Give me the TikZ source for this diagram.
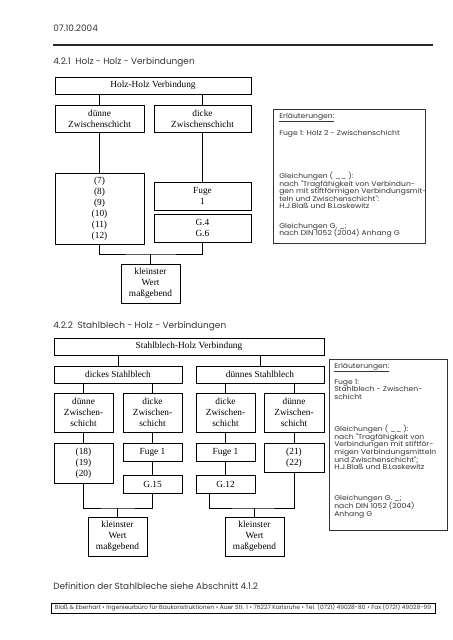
\documentclass[tikz,border=0pt]{standalone}
\usepackage{fontspec}
\setmainfont{Poppins}
\newfontfamily\tnr{Liberation Serif}
\newfontfamily\erlfont[FakeStretch=1.1]{Poppins}
\tikzset{
  box/.style={draw=black, line width=0.7pt, inner sep=0pt, align=center,
    font=\tnr\fontsize{7}{8.2}\selectfont, text=black},
  erlbox/.style={draw=black!80, line width=0.7pt, inner sep=0pt},
  conn/.style={draw=black, line width=0.6pt},
  head/.style={anchor=base west, inner sep=0pt, font=\fontsize{6.7}{8}\selectfont, text=black!80},
  erl/.style={anchor=base west, inner sep=0pt, font=\erlfont\fontsize{5.2}{6}\selectfont, text=black!80},
}
\newcommand\mybox[7][box]{\node[#1, minimum width={(#5-#3)*0.75pt}, minimum height={(#6-#4)*0.75pt}] (#2) at ({(#3+#5)/2},{(#4+#6)/2}) {#7};}
\begin{document}
\begin{tikzpicture}[x=0.75pt,y=-0.75pt]
\useasboundingbox (0,0) rectangle (453,640);
% header
\node[head] (date) at (53,31.5) {07.10.2004};
\draw[line width=1pt, black!85] (53,45) -- (433,45);
\node[head] (h1) at (53,64.5) {4.2.1\ \ Holz - Holz - Verbindungen};
% section 1
\mybox{hh}{55}{77}{251}{94}{Holz-Holz Verbindung}
\mybox{dn}{55}{105}{144}{132}{dünne\\Zwischenschicht}
\mybox{dk}{154}{105}{251}{132}{dicke\\Zwischenschicht}
\mybox{num}{55}{173}{144}{244}{(7)\\(8)\\(9)\\(10)\\(11)\\(12)}
\mybox{fg}{154}{182}{251}{210}{Fuge\\1}
\mybox{gg}{154}{214}{251}{242}{G.4\\G.6}
\mybox{kw}{121}{264}{180}{303}{kleinster\\Wert\\maßgebend}
\coordinate (j1) at (150.5,254);
\draw[conn] (hh.south -| dn) -- (dn.north);
\draw[conn] (hh.south -| dk) -- (dk.north);
\draw[conn] (dn.south) -- (num.north);
\draw[conn] (dk.south) -- (fg.north);
\draw[conn] (num.south) |- (j1) -| (gg.south);
\draw[conn] (j1) -- (kw.north);
% Erlaeuterungen 1
\mybox[erlbox]{erlA}{273}{109}{425}{243}{}
\node[erl] (ea1) at (279,118) {\underline{Erläuterungen:}};
\node[erl] (ea2) at (279,135) {Fuge 1: Holz 2 - Zwischenschicht};
\node[erl] (ea3) at (279,178.5) {Gleichungen ( \_\_ ):};
\node[erl] (ea4) at (279,186) {nach "Tragfähigkeit von Verbindun-};
\node[erl] (ea5) at (279,193.5) {gen mit stiftförmigen Verbindungsmit-};
\node[erl] (ea6) at (279,201) {teln und Zwischenschicht":};
\node[erl] (ea7) at (279,208.5) {H.J.Blaß und B.Laskewitz};
\node[erl] (ea8) at (279,228) {Gleichungen G. \_;};
\node[erl] (ea9) at (279,235.5) {nach DIN 1052 (2004) Anhang G};
% section 2
\node[head] (h2) at (53,328) {4.2.2\ \ Stahlblech - Holz - Verbindungen};
\mybox{sh}{54}{338}{324}{355}{Stahlblech-Holz Verbindung}
\mybox{dks}{54}{366}{182}{383}{dickes Stahlblech}
\mybox{dns}{196}{366}{324}{383}{dünnes Stahlblech}
\mybox{a1}{54}{393}{113}{432}{dünne\\Zwischen-\\schicht}
\mybox{a2}{123}{393}{182}{432}{dicke\\Zwischen-\\schicht}
\mybox{a3}{196}{393}{255}{432}{dicke\\Zwischen-\\schicht}
\mybox{a4}{264}{393}{324}{432}{dünne\\Zwischen-\\schicht}
\mybox{b1}{54}{443}{113}{483}{(18)\\(19)\\(20)}
\mybox{b2}{123}{443}{182}{461}{Fuge 1}
\mybox{c2}{123}{475}{182}{493}{G.15}
\mybox{b3}{196}{443}{255}{461}{Fuge 1}
\mybox{c3}{196}{475}{255}{493}{G.12}
\mybox{b4}{264}{443}{324}{472}{(21)\\(22)}
\mybox{kl}{88}{517}{147}{556}{kleinster\\Wert\\maßgebend}
\mybox{kr}{225}{517}{284}{556}{kleinster\\Wert\\maßgebend}
\coordinate (jl) at (117.5,508);
\coordinate (jr) at (254.5,508);
\draw[conn] (sh.south -| dks) -- (dks.north);
\draw[conn] (sh.south -| dns) -- (dns.north);
\draw[conn] (dks.south -| a1) -- (a1.north);
\draw[conn] (dks.south -| a2) -- (a2.north);
\draw[conn] (dns.south -| a3) -- (a3.north);
\draw[conn] (dns.south -| a4) -- (a4.north);
\draw[conn] (a1.south) -- (b1.north);
\draw[conn] (a2.south) -- (b2.north);
\draw[conn] (b2.south) -- (c2.north);
\draw[conn] (a3.south) -- (b3.north);
\draw[conn] (b3.south) -- (c3.north);
\draw[conn] (a4.south) -- (b4.north);
\draw[conn] (b1.south) |- (jl) -| (c2.south);
\draw[conn] (jl) -- (kl.north);
\draw[conn] ([xshift=-12.4pt]c3.south) |- (jr) -| (b4.south);
\draw[conn] (jr) -- (kr.north);
% Erlaeuterungen 2
\mybox[erlbox]{erlB}{329}{359}{447}{530}{}
\node[erl] (eb1) at (334,368) {\underline{Erläuterungen:}};
\node[erl] (eb2) at (334,384) {Fuge 1:};
\node[erl] (eb3) at (334,391.7) {Stahlblech - Zwischen-};
\node[erl] (eb4) at (334,399.4) {schicht};
\node[erl] (eb5) at (334,431.4) {Gleichungen ( \_\_ ):};
\node[erl] (eb6) at (334,439) {nach "Tragfähigkeit von};
\node[erl] (eb7) at (334,446.7) {Verbindungen mit stiftför-};
\node[erl] (eb8) at (334,454.4) {migen Verbindungsmitteln};
\node[erl] (eb9) at (334,462) {und Zwischenschicht";};
\node[erl] (eb10) at (334,469.7) {H.J.Blaß und B.Laskewitz};
\node[erl] (eb11) at (334,500.7) {Gleichungen G. \_;};
\node[erl] (eb12) at (334,508.4) {nach DIN 1052 (2004)};
\node[erl] (eb13) at (334,516) {Anhang G};
% footer
\node[head] (def) at (53,589) {Definition der Stahlbleche siehe Abschnitt 4.1.2};
\node[draw=black, line width=0.6pt, inner sep=0pt, minimum width={384*0.75pt}, minimum height={10*0.75pt}, text=black!80] (foot) at (243,608)
  {\resizebox{282pt}{!}{Blaß \& Eberhart • Ingenieurbüro für Baukonstruktionen • Auer Str. 1 • 76227 Karlsruhe • Tel. (0721) 49028-80 • Fax (0721) 49028-99}};
\end{tikzpicture}
\end{document}
